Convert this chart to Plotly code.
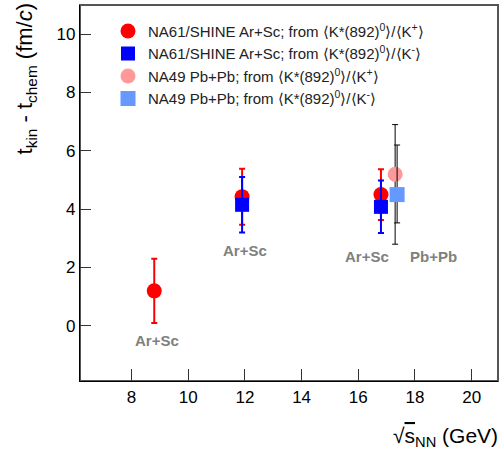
import plotly.graph_objects as go

# NA61/SHINE Ar+Sc, from K*/K+
arsc_kp_x = [8.8, 11.9, 16.8]
arsc_kp_y = [1.2, 4.43, 4.5]
arsc_kp_err = [1.1, 0.96, 0.87]

# NA61/SHINE Ar+Sc, from K*/K-
arsc_km_x = [11.9, 16.8]
arsc_km_y = [4.15, 4.08]
arsc_km_err = [0.95, 0.9]

# NA49 Pb+Pb
pbpb_kp_x = [17.3]
pbpb_kp_y = [5.2]
pbpb_kp_up = [1.7]
pbpb_kp_dn = [2.4]

pbpb_km_x = [17.37]
pbpb_km_y = [4.5]
pbpb_km_up = [1.7]
pbpb_km_dn = [0.97]

names = [
    "NA61/SHINE Ar+Sc; from ⟨K*(892)<sup>0</sup>⟩/⟨K<sup>+</sup>⟩",
    "NA61/SHINE Ar+Sc; from ⟨K*(892)<sup>0</sup>⟩/⟨K<sup>-</sup>⟩",
    "NA49 Pb+Pb; from ⟨K*(892)<sup>0</sup>⟩/⟨K<sup>+</sup>⟩",
    "NA49 Pb+Pb; from ⟨K*(892)<sup>0</sup>⟩/⟨K<sup>-</sup>⟩",
]

labels_text = ["Ar+Sc", "Ar+Sc", "Ar+Sc", "Pb+Pb"]
labels_x = [8.9, 12.0, 16.3, 18.65]
labels_y = [-0.5, 2.6, 2.37, 2.37]

x_ticks = [8, 10, 12, 14, 16, 18, 20]
y_ticks = [0, 2, 4, 6, 8, 10]

FONT = "Liberation Sans, Arial"

fig = go.Figure()

fig.add_trace(go.Scatter(
    x=arsc_kp_x, y=arsc_kp_y, mode="markers", name=names[0],
    marker=dict(symbol="circle", size=15, color="#ff0000"),
    error_y=dict(type="data", array=arsc_kp_err, color="#ff0000", thickness=2, width=3),
))
fig.add_trace(go.Scatter(
    x=arsc_km_x, y=arsc_km_y, mode="markers", name=names[1],
    marker=dict(symbol="square", size=14, color="#0000ff"),
    error_y=dict(type="data", array=arsc_km_err, color="#0000ff", thickness=2, width=3),
))
fig.add_trace(go.Scatter(
    x=pbpb_kp_x, y=pbpb_kp_y, mode="markers", name=names[2],
    marker=dict(symbol="circle", size=15, color="#ff9999"),
    error_y=dict(type="data", symmetric=False, array=pbpb_kp_up, arrayminus=pbpb_kp_dn,
                 color="black", thickness=1, width=3),
))
fig.add_trace(go.Scatter(
    x=pbpb_km_x, y=pbpb_km_y, mode="markers", name=names[3],
    marker=dict(symbol="square", size=15, color="#6699ff"),
    error_y=dict(type="data", symmetric=False, array=pbpb_km_up, arrayminus=pbpb_km_dn,
                 color="black", thickness=1, width=3),
))

for t, x, y in zip(labels_text, labels_x, labels_y):
    fig.add_annotation(x=x, y=y, xref="x", yref="y", text="<b>%s</b>" % t,
                       showarrow=False, font=dict(size=15, color="#808080", family=FONT))

# x-axis title (right aligned, ROOT style)
fig.add_annotation(
    x=1.005, y=-0.148, xref="paper", yref="paper", xanchor="right", yanchor="middle",
    text="√<span style='text-decoration:overline'>s</span><sub>NN</sub> (GeV)",
    showarrow=False, font=dict(size=21, color="black", family=FONT),
)
# y-axis title (top aligned, ROOT style)
fig.add_annotation(
    x=-0.13, y=1.01, xref="paper", yref="paper", xanchor="center", yanchor="top",
    textangle=-90,
    text="t<sub>kin</sub> - t<sub>chem</sub> (fm/<i>c</i>)",
    showarrow=False, font=dict(size=22, color="black", family=FONT),
)

fig.add_shape(type="rect", xref="paper", yref="paper", x0=0, x1=1, y0=0, y1=1,
              line=dict(color="#555555", width=2), layer="below")

fig.update_layout(
    width=502, height=453,
    margin=dict(l=80, r=4, t=5, b=72),
    paper_bgcolor="white", plot_bgcolor="white",
    font=dict(family=FONT, color="black"),
    showlegend=True,
    legend=dict(
        traceorder="normal",
        x=0.067, y=0.974, xanchor="left", yanchor="top",
        bgcolor="rgba(0,0,0,0)", font=dict(size=15, color="#222222"),
        itemsizing="trace", itemwidth=30,
    ),
    xaxis=dict(
        range=[6.18, 20.93], tickvals=x_ticks, ticktext=[str(v) for v in x_ticks],
        ticks="inside", ticklen=12, tickwidth=1.2, tickcolor="#333333",
        showline=True, linecolor="black", linewidth=1.3, showgrid=False, zeroline=False,
        tickfont=dict(size=17),
    ),
    yaxis=dict(
        range=[-1.89, 11.0], tickvals=y_ticks, ticktext=[str(v) for v in y_ticks],
        ticks="inside", ticklen=11, tickwidth=1.2, tickcolor="#333333",
        showline=True, linecolor="black", linewidth=1.3, showgrid=False, zeroline=False,
        tickfont=dict(size=17),
    ),
)

fig.write_html("out.html")
